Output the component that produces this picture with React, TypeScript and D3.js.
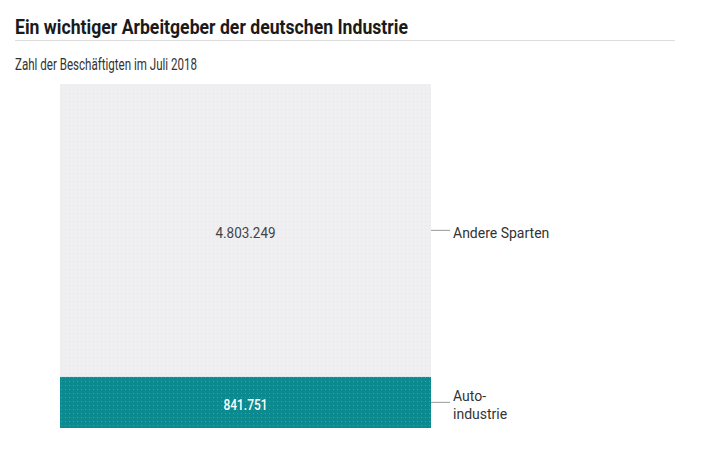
import React, { useEffect, useRef } from 'react';
import * as d3 from 'd3';

const categories = ['Autoindustrie', 'Andere Sparten'];
const labelLines = [['Auto-', 'industrie'], ['Andere Sparten']];
const values = [841751, 4803249];
const colors = ['#0b8a90', '#efeff1'];
const valueColors = ['#ffffff', '#444444'];

const title = 'Ein wichtiger Arbeitgeber der deutschen Industrie';
const subtitle = 'Zahl der Beschäftigten im Juli 2018';

const fmt = (v: number) => d3.format(',')(v).replace(/,/g, '.');

export default function App() {
  const svgRef = useRef<SVGSVGElement>(null);

  useEffect(() => {
    if (!svgRef.current) return;
    const svg = d3.select(svgRef.current);
    svg.selectAll('*').remove();

    const defs = svg.append('defs');
    const dots = (id: string, bg: string, dot: string) => {
      const p = defs.append('pattern')
        .attr('id', id)
        .attr('width', 4)
        .attr('height', 4)
        .attr('patternUnits', 'userSpaceOnUse');
      p.append('rect').attr('width', 4).attr('height', 4).attr('fill', bg);
      p.append('rect').attr('x', 1).attr('y', 1).attr('width', 1).attr('height', 1).attr('fill', dot);
    };
    dots('p0', colors[0], '#3aa3a8');
    dots('p1', colors[1], '#e6e6ea');

    // header
    svg.append('text')
      .attr('x', 15)
      .attr('y', 34)
      .attr('font-family', 'Roboto, sans-serif')
      .attr('font-weight', 700)
      .attr('font-size', 19.5)
      .attr('fill', '#1a1a1a')
      .attr('textLength', 393)
      .attr('lengthAdjust', 'spacingAndGlyphs')
      .text(title);

    svg.append('line')
      .attr('x1', 15).attr('x2', 675)
      .attr('y1', 40.5).attr('y2', 40.5)
      .attr('stroke', '#dddddd');

    svg.append('text')
      .attr('x', 15)
      .attr('y', 70)
      .attr('font-family', 'Roboto, sans-serif')
      .attr('font-weight', 400)
      .attr('font-size', 16)
      .attr('fill', '#333')
      .attr('textLength', 182)
      .attr('lengthAdjust', 'spacingAndGlyphs')
      .text(subtitle);

    const total = d3.sum(values);
    const y = d3.scaleLinear().domain([0, total]).range([428, 84]);
    const x = d3.scaleBand().domain(['Juli 2018']).range([60, 431]).padding(0);

    const stacked = values.map((v, i) => {
      const y0 = d3.sum(values.slice(0, i));
      return { v, y0, y1: y0 + v, i };
    });

    const g = svg.append('g');
    g.selectAll('rect.seg')
      .data(stacked)
      .enter()
      .append('rect')
      .attr('class', 'seg')
      .attr('x', x('Juli 2018') as number)
      .attr('width', x.bandwidth())
      .attr('y', d => y(d.y1))
      .attr('height', d => y(d.y0) - y(d.y1))
      .attr('fill', d => `url(#p${d.i})`);

    g.selectAll('text.val')
      .data(stacked)
      .enter()
      .append('text')
      .attr('class', 'val')
      .attr('x', (x('Juli 2018') as number) + x.bandwidth() / 2)
      .attr('y', d => (y(d.y0) + y(d.y1)) / 2 + 7.5)
      .attr('text-anchor', 'middle')
      .attr('font-family', 'Roboto, sans-serif')
      .attr('font-size', 14)
      .attr('fill', d => valueColors[d.i])
      .attr('font-weight', d => (d.i === 0 ? 500 : 400))
      .attr('textLength', d => (d.i === 0 ? 44 : 60))
      .attr('lengthAdjust', 'spacingAndGlyphs')
      .text(d => fmt(d.v));

    const right = 431;
    stacked.forEach(d => {
      const mid = (y(d.y0) + y(d.y1)) / 2;
      g.append('line')
        .attr('x1', right).attr('x2', right + 19)
        .attr('y1', mid).attr('y2', mid)
        .attr('stroke', '#999')
        .attr('stroke-width', 1);
      const lines = labelLines[d.i];
      const t = g.append('text')
        .attr('x', right + 22)
        .attr('font-family', 'Roboto, sans-serif')
        .attr('font-size', 14)
        .attr('fill', '#333')
        .attr('aria-label', categories[d.i]);
      const startY = lines.length === 1 ? mid + 7.5 : mid - 1;
      lines.forEach((ln, k) => {
        t.append('tspan')
          .attr('x', right + 22)
          .attr('y', startY + k * 18)
          .text(ln);
      });
    });
  }, []);

  return (
    <svg ref={svgRef} width={695} height={438} style={{ display: 'block', margin: 0, position: 'absolute', left: 0, top: 0 }} />
  );
}
